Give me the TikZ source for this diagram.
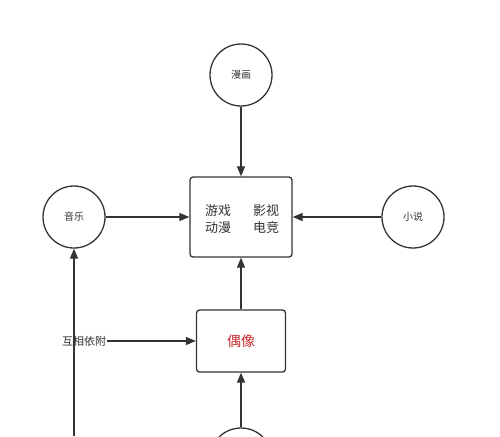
\documentclass[tikz,border=0pt]{standalone}
\usepackage{fontspec}
\setmainfont{Noto Sans CJK SC}
\usetikzlibrary{arrows.meta}
\definecolor{ln}{HTML}{333333}
\definecolor{idol}{HTML}{C8282D}
\tikzset{
  circ/.style={draw=ln, line width=1.3pt, circle, minimum size=62pt, inner sep=0pt, font=\fontsize{10}{12}\selectfont, text=ln},
  box/.style={draw=ln, line width=1.3pt, rounded corners=3pt, inner sep=0pt, text=ln},
  conn/.style={draw=ln, line width=1.3pt, -{Triangle[length=10pt,width=8pt]}},
}
\begin{document}
\begin{tikzpicture}[x=1pt,y=-1pt]
\useasboundingbox[fill=white] (0,0) rectangle (500,436);
\node[circ] (manhua) at (241,75) {漫画};
\node[circ] (yinyue) at (74,217) {音乐};
\node[circ] (xiaoshuo) at (413,217) {小说};
\node[circ] (bottom) at (241,459) {};
\node[box, minimum width=102pt, minimum height=80pt] (main) at (241,217) {};
\node[text=ln, align=center, font=\fontsize{13}{17}\selectfont] (t1) at (218,219) {游戏\\动漫};
\node[text=ln, align=center, font=\fontsize{13}{17}\selectfont] (t2) at (266,219) {影视\\电竞};
\node[box, minimum width=89pt, minimum height=62pt, text=idol, font=\fontsize{14}{16}\selectfont] (idol) at (241,341) {偶像};
\node[text=ln, inner sep=1pt, font=\fontsize{11}{13}\selectfont] (dep) at (84,341) {互相依附};
\coordinate (start) at (74,436);
\draw[conn] (manhua) -- (main);
\draw[conn] (yinyue) -- (main);
\draw[conn] (xiaoshuo) -- (main);
\draw[conn] (idol) -- (main);
\draw[conn] (bottom) -- (idol);
\draw[conn] (dep) -- (idol);
\draw[conn] (start) -- (yinyue);
\end{tikzpicture}
\end{document}
